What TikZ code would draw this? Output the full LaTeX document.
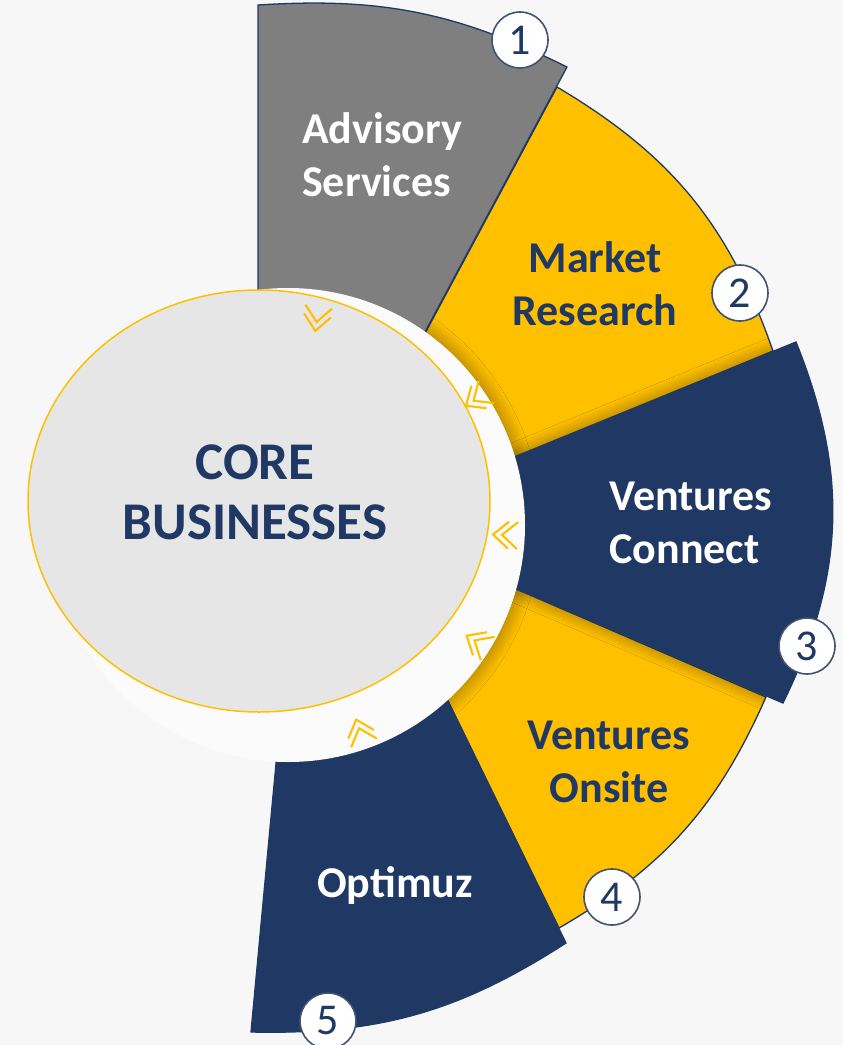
\documentclass[tikz,border=0pt]{standalone}
\usepackage{fontspec}
\setmainfont{Carlito}
\usetikzlibrary{shapes.geometric,shadows.blur}
\definecolor{navy}{HTML}{203864}
\definecolor{gold}{HTML}{FFC000}
\definecolor{segray}{HTML}{7F7F7F}
\definecolor{ellfill}{HTML}{E6E6E6}
\definecolor{bgc}{HTML}{F7F7F7}
\definecolor{discc}{HTML}{FBFBFB}
\definecolor{numedge}{HTML}{42536F}
\begin{document}
\begin{tikzpicture}[x=1pt,y=-1pt,
  seg/.style={draw=navy, line width=1.3pt, line join=miter},
  numcirc/.style={circle, draw=numedge, line width=1.6pt, fill=white, minimum size=56pt, inner sep=0pt, font=\fontsize{44}{44}\selectfont, text=navy},
  lab/.style={font=\bfseries\fontsize{44}{53}\selectfont, inner sep=0pt},
  corelab/.style={font=\bfseries\fontsize{53}{60}\selectfont, inner sep=0pt, align=center, text=navy},
  chev/.style={draw=gold, line width=2.1pt, line join=miter},
  softshadow/.style={blur shadow={shadow xshift=0pt, shadow yshift=0pt, shadow blur radius=#1, shadow blur steps=14, shadow opacity=45}}
]
\useasboundingbox (0,0) rectangle (843,1045);
\fill[bgc] (0,0) rectangle (843,1045);

% segments
\path[seg, fill=gold] (557,87) to[bend left=20] (773,351) -- (470,477) -- (400,380) -- cycle;
\path[seg, fill=segray] (258,5) to[bend left=15] (567,67) -- (380,416) -- (258,416) -- cycle;
\path[seg, fill=gold] (766,697) to[bend left=18] (559,928) -- (425,654) -- (470,569) -- cycle;
\path[seg, fill=navy] (566,943) to[bend left=17] (251,1032) -- (281,710) -- (425,654) -- cycle;

% soft shadows falling on the yellow segments
\begin{scope}
  \clip (557,87) to[bend left=20] (773,351) -- (470,477) -- (400,380) -- cycle
        (766,697) to[bend left=18] (559,928) -- (425,654) -- (470,569) -- cycle;
  \path[softshadow=14pt] (796,342) to[bend left=24] (783,703) -- (470,569) -- (470,475) -- cycle;
  \path[softshadow=16pt] (288,525) circle[radius=237];
\end{scope}

\path[seg, fill=navy] (796,342) to[bend left=24] (783,703) -- (470,569) -- (470,475) -- cycle;

% white disc and core ellipse
\fill[discc] (288,525) circle[radius=237];
\node[ellipse, draw=gold, line width=1.5pt, fill=ellfill, minimum width=462pt, minimum height=422pt, inner sep=0pt] (core) at (259,501) {};
\node[corelab] (coretext) at (255,492) {CORE\\BUSINESSES};

% chevrons pointing to the centre
\foreach \cx/\cy/\ang [count=\i] in {317/319/261.7, 476/399/214.3, 505/535/177.4, 477/642/149, 360/731/108.6}{
  \draw[chev, shift={(\cx,\cy)}, rotate=\ang]
    (-3.5,13.5) -- (12,0) -- (-3.5,-13.5)
    (-12.5,13.5) -- (3,0) -- (-12.5,-13.5);
}

% labels
\node[lab, text=white, align=left] (adv) at (382,155) {Advisory\\Services};
\node[lab, text=navy, align=center] (mr) at (595,284) {Market\\Research};
\node[lab, text=white, align=left] (vc) at (691,523) {Ventures\\Connect};
\node[lab, text=navy, align=center] (vo) at (609,762) {Ventures\\Onsite};
\node[lab, text=white] (opt) at (395,885) {Optimuz};

% number badges
\node[numcirc] (n1) at (520,40) {1};
\node[numcirc] (n2) at (740,293) {2};
\node[numcirc] (n3) at (807,646) {3};
\node[numcirc] (n4) at (612,897) {4};
\node[numcirc] (n5) at (328,1021) {5};
\end{tikzpicture}
\end{document}
